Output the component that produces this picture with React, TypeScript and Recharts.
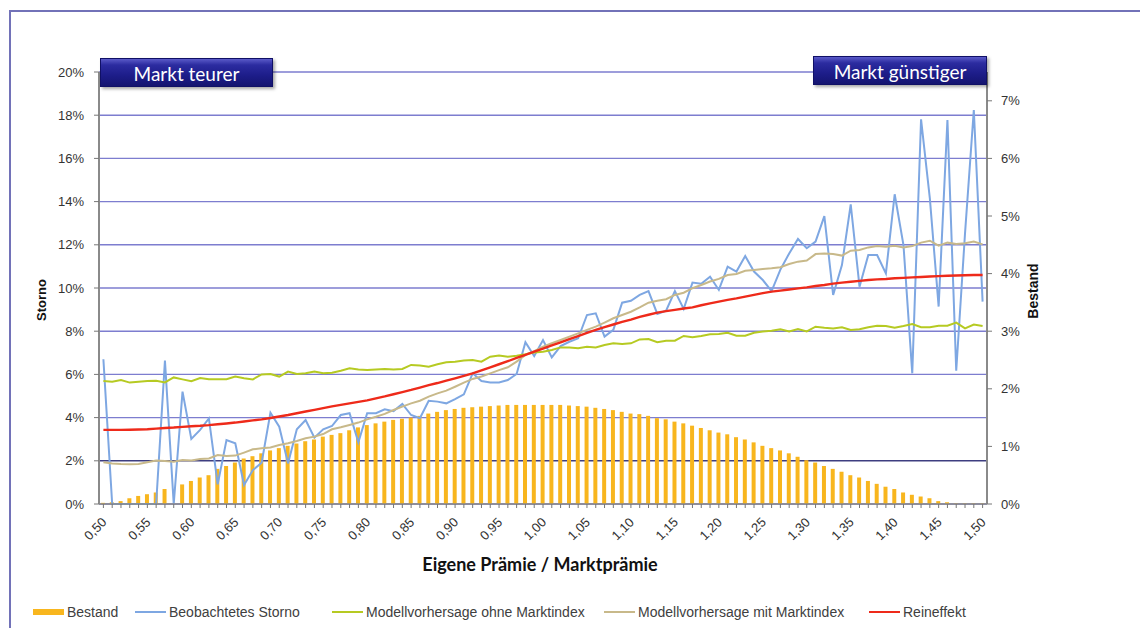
import React from 'react';
import { ComposedChart, Bar, Line, XAxis, YAxis, CartesianGrid } from 'recharts';

const categories = [
  '0,50','0,51','0,52','0,53','0,54','0,55','0,56','0,57','0,58','0,59',
  '0,60','0,61','0,62','0,63','0,64','0,65','0,66','0,67','0,68','0,69',
  '0,70','0,71','0,72','0,73','0,74','0,75','0,76','0,77','0,78','0,79',
  '0,80','0,81','0,82','0,83','0,84','0,85','0,86','0,87','0,88','0,89',
  '0,90','0,91','0,92','0,93','0,94','0,95','0,96','0,97','0,98','0,99',
  '1,00','1,01','1,02','1,03','1,04','1,05','1,06','1,07','1,08','1,09',
  '1,10','1,11','1,12','1,13','1,14','1,15','1,16','1,17','1,18','1,19',
  '1,20','1,21','1,22','1,23','1,24','1,25','1,26','1,27','1,28','1,29',
  '1,30','1,31','1,32','1,33','1,34','1,35','1,36','1,37','1,38','1,39',
  '1,40','1,41','1,42','1,43','1,44','1,45','1,46','1,47','1,48','1,49',
  '1,50'
];

// Bestand (right axis, %)
const bestand = [
  0.02, 0.03, 0.05, 0.10, 0.14, 0.17, 0.20, 0.26, 0.00, 0.34,
  0.40, 0.46, 0.50, 0.61, 0.66, 0.72, 0.79, 0.83, 0.88, 0.93,
  0.97, 1.01, 1.05, 1.09, 1.12, 1.17, 1.20, 1.23, 1.28, 1.33,
  1.37, 1.40, 1.43, 1.46, 1.48, 1.50, 1.53, 1.57, 1.60, 1.63,
  1.65, 1.67, 1.68, 1.69, 1.70, 1.71, 1.72, 1.72, 1.72, 1.72,
  1.72, 1.72, 1.72, 1.71, 1.70, 1.69, 1.67, 1.65, 1.63, 1.60,
  1.57, 1.56, 1.53, 1.49, 1.47, 1.43, 1.40, 1.36, 1.32, 1.28,
  1.24, 1.21, 1.16, 1.12, 1.07, 1.01, 0.97, 0.93, 0.88, 0.82,
  0.76, 0.72, 0.66, 0.61, 0.56, 0.50, 0.46, 0.40, 0.35, 0.30,
  0.26, 0.20, 0.16, 0.13, 0.10, 0.05, 0.03, 0.01, 0.01, 0.01,
  0.01
];

// Beobachtetes Storno (left axis, %)
const beobachtet = [
  6.70, 0.00, 0.00, 0.00, 0.00, 0.00, 0.00, 6.64, 0.00, 5.20,
  3.01, 3.43, 3.96, 0.91, 2.96, 2.81, 0.88, 1.57, 1.91, 4.23,
  3.58, 1.88, 3.46, 3.89, 3.07, 3.46, 3.61, 4.12, 4.20, 2.86,
  4.20, 4.20, 4.38, 4.30, 4.63, 4.12, 3.97, 4.78, 4.74, 4.66,
  4.86, 5.08, 6.05, 5.69, 5.63, 5.63, 5.74, 6.02, 7.49, 6.85,
  7.59, 6.79, 7.31, 7.51, 7.67, 8.75, 8.83, 7.75, 8.06, 9.32,
  9.41, 9.68, 9.86, 8.80, 8.95, 9.86, 9.03, 10.25, 10.20, 10.52,
  9.91, 10.99, 10.76, 11.48, 10.76, 10.37, 9.86, 10.85, 11.60, 12.27,
  11.84, 12.15, 13.33, 9.68, 11.06, 13.87, 10.06, 11.53, 11.53, 10.68,
  14.34, 11.99, 6.05, 17.81, 14.15, 9.14, 17.78, 6.17, 12.53, 18.24,
  9.37
];

// Modellvorhersage ohne Marktindex (left axis, %)
const ohneMarktindex = [
  5.69, 5.66, 5.74, 5.62, 5.66, 5.69, 5.71, 5.63, 5.86, 5.77,
  5.68, 5.83, 5.78, 5.77, 5.78, 5.90, 5.82, 5.77, 6.00, 6.02,
  5.90, 6.13, 6.02, 6.05, 6.13, 6.05, 6.08, 6.17, 6.28, 6.23,
  6.20, 6.23, 6.25, 6.23, 6.25, 6.44, 6.41, 6.36, 6.47, 6.56,
  6.59, 6.64, 6.67, 6.59, 6.82, 6.88, 6.82, 6.86, 6.93, 7.01,
  7.05, 7.13, 7.25, 7.25, 7.21, 7.28, 7.25, 7.36, 7.44, 7.41,
  7.44, 7.62, 7.64, 7.49, 7.56, 7.56, 7.78, 7.72, 7.78, 7.86,
  7.87, 7.93, 7.79, 7.79, 7.93, 7.99, 8.02, 8.09, 7.99, 8.10,
  7.99, 8.21, 8.16, 8.13, 8.18, 8.06, 8.09, 8.18, 8.25, 8.24,
  8.16, 8.24, 8.33, 8.18, 8.18, 8.25, 8.25, 8.40, 8.13, 8.31,
  8.24
];

// Modellvorhersage mit Marktindex (left axis, %)
const mitMarktindex = [
  1.93, 1.88, 1.85, 1.84, 1.85, 1.93, 2.01, 1.99, 1.96, 2.04,
  2.01, 2.08, 2.11, 2.27, 2.22, 2.24, 2.38, 2.53, 2.58, 2.62,
  2.73, 2.81, 2.92, 3.04, 3.12, 3.24, 3.46, 3.55, 3.66, 3.77,
  3.92, 4.04, 4.17, 4.35, 4.51, 4.66, 4.78, 4.97, 5.12, 5.25,
  5.43, 5.62, 5.79, 5.90, 6.05, 6.20, 6.33, 6.59, 6.90, 7.08,
  7.28, 7.44, 7.59, 7.75, 7.90, 8.06, 8.21, 8.40, 8.60, 8.75,
  8.90, 9.10, 9.32, 9.41, 9.48, 9.68, 9.78, 9.99, 10.14, 10.30,
  10.42, 10.60, 10.65, 10.80, 10.83, 10.88, 10.91, 10.96, 11.11, 11.22,
  11.27, 11.57, 11.60, 11.57, 11.50, 11.73, 11.76, 11.88, 11.94, 11.91,
  11.96, 11.88, 11.94, 12.10, 12.19, 11.96, 12.10, 12.04, 12.07, 12.15,
  12.02
];

// Reineffekt (left axis, %)
const reineffekt = [
  3.43, 3.43, 3.43, 3.44, 3.45, 3.46, 3.49, 3.52, 3.54, 3.57,
  3.60, 3.62, 3.65, 3.69, 3.73, 3.77, 3.82, 3.87, 3.92, 3.98,
  4.05, 4.12, 4.20, 4.28, 4.36, 4.44, 4.52, 4.59, 4.66, 4.73,
  4.80, 4.89, 4.98, 5.08, 5.18, 5.28, 5.39, 5.50, 5.60, 5.71,
  5.82, 5.93, 6.05, 6.19, 6.33, 6.47, 6.61, 6.76, 6.90, 7.05,
  7.19, 7.34, 7.48, 7.63, 7.77, 7.92, 8.06, 8.19, 8.31, 8.43,
  8.54, 8.66, 8.76, 8.86, 8.93, 8.99, 9.05, 9.10, 9.20, 9.29,
  9.37, 9.45, 9.52, 9.60, 9.68, 9.76, 9.83, 9.88, 9.93, 9.98,
  10.03, 10.09, 10.14, 10.20, 10.25, 10.29, 10.33, 10.37, 10.40, 10.42,
  10.45, 10.47, 10.49, 10.51, 10.53, 10.55, 10.57, 10.58, 10.59, 10.60,
  10.60
];

const leftTicks = [0, 2, 4, 6, 8, 10, 12, 14, 16, 18, 20];
const rightTicks = [0, 1, 2, 3, 4, 5, 6, 7];
const labelEvery = 5;

const seriesNames = {
  bestand: 'Bestand',
  beobachtet: 'Beobachtetes Storno',
  ohne: 'Modellvorhersage ohne Marktindex',
  mit: 'Modellvorhersage mit Marktindex',
  rein: 'Reineffekt',
};

const COLORS = {
  bestand: '#f8b61e',
  beobachtet: '#7ea7e2',
  ohne: '#b6ca22',
  mit: '#c8b98a',
  rein: '#ee2a1a',
};

const data = categories.map((c, i) => ({
  cat: c,
  bestand: bestand[i],
  beobachtet: beobachtet[i],
  ohne: ohneMarktindex[i],
  mit: mitMarktindex[i],
  rein: reineffekt[i],
}));

const FONT = '"Liberation Sans", Arial, sans-serif';

function XTick(props: any) {
  const { x, y, payload } = props;
  const idx = categories.indexOf(payload.value);
  if (idx % labelEvery !== 0) return <g />;
  const ax = x + 4;
  const ay = y + 13;
  return (
    <text
      x={ax}
      y={ay}
      transform={`rotate(-45 ${ax} ${ay})`}
      textAnchor="end"
      fontSize={13}
      fontFamily={FONT}
      fill="#333"
    >
      {payload.value}
    </text>
  );
}

function GridLine(p: any) {
  const dark = Math.abs(p.y1 - 460.8) < 2;
  return (
    <line
      key={p.key}
      x1={p.x1}
      y1={p.y1}
      x2={p.x2}
      y2={p.y2}
      stroke={dark ? '#3e3e80' : '#7d7dcf'}
      strokeWidth={1.4}
    />
  );
}

const boxStyle: React.CSSProperties = {
  position: 'absolute',
  height: 29,
  background: 'linear-gradient(180deg, #5a5ac8 0%, #2c2ca0 22%, #1d1d8a 60%, #141470 100%)',
  border: '1px solid #101066',
  boxShadow: '2px 2px 3px rgba(0,0,0,0.35)',
  color: '#fff',
  fontFamily: 'Lato, "Liberation Sans", sans-serif',
  fontSize: 19,
  lineHeight: '29px',
  textAlign: 'center',
  boxSizing: 'border-box',
};

const legendItems = [
  { key: 'bestand', left: 33, type: 'rect' },
  { key: 'beobachtet', left: 135, type: 'line' },
  { key: 'ohne', left: 332, type: 'line' },
  { key: 'mit', left: 604, type: 'line' },
  { key: 'rein', left: 869, type: 'line' },
];

export default function App() {
  return (
    <div style={{ position: 'absolute', left: 0, top: 0, width: 1140, height: 628, background: '#fff', overflow: 'hidden' }}>
      <div
        style={{
          position: 'absolute',
          left: 9,
          top: 10,
          width: 1131,
          height: 618,
          borderTop: '2px solid #7272b8',
          borderLeft: '2px solid #7272b8',
          boxSizing: 'border-box',
        }}
      />
      <div style={{ position: 'absolute', left: 0, top: 0 }}>
        <ComposedChart
          width={1140}
          height={628}
          data={data}
          margin={{ top: 72, right: 93, bottom: 64, left: 39 }}
          barCategoryGap={0}
        >
          <CartesianGrid
            yAxisId="left"
            vertical={false}
            horizontal={GridLine as any}
          />
          <XAxis
            dataKey="cat"
            interval={0}
            height={60}
            tick={<XTick />}
            tickSize={4}
            tickLine={{ stroke: '#777' }}
            axisLine={{ stroke: '#888', strokeWidth: 1.5 }}
          />
          <YAxis
            yAxisId="left"
            domain={[0, 20]}
            ticks={leftTicks}
            width={60}
            tickSize={5}
            tickMargin={10}
            tickFormatter={(v: number) => `${v}%`}
            tick={{ fontSize: 13, fill: '#333', fontFamily: FONT }}
            tickLine={{ stroke: '#777' }}
            axisLine={{ stroke: '#8a8a8a', strokeWidth: 2 }}
          />
          <YAxis
            yAxisId="right"
            orientation="right"
            domain={[0, 7.5]}
            ticks={rightTicks}
            width={60}
            tickSize={5}
            tickMargin={9}
            allowDataOverflow
            tickFormatter={(v: number) => `${v}%`}
            tick={{ fontSize: 13, fill: '#333', fontFamily: FONT }}
            tickLine={{ stroke: '#777' }}
            axisLine={{ stroke: '#8a8a8a', strokeWidth: 2 }}
          />
          <Bar
            yAxisId="right"
            dataKey="bestand"
            name={seriesNames.bestand}
            fill={COLORS.bestand}
            barSize={4}
            isAnimationActive={false}
          />
          <Line
            yAxisId="left"
            type="linear"
            dataKey="beobachtet"
            name={seriesNames.beobachtet}
            stroke={COLORS.beobachtet}
            strokeWidth={2}
            dot={false}
            isAnimationActive={false}
          />
          <Line
            yAxisId="left"
            type="linear"
            dataKey="ohne"
            name={seriesNames.ohne}
            stroke={COLORS.ohne}
            strokeWidth={2}
            dot={false}
            isAnimationActive={false}
          />
          <Line
            yAxisId="left"
            type="linear"
            dataKey="mit"
            name={seriesNames.mit}
            stroke={COLORS.mit}
            strokeWidth={2}
            dot={false}
            isAnimationActive={false}
          />
          <Line
            yAxisId="left"
            type="linear"
            dataKey="rein"
            name={seriesNames.rein}
            stroke={COLORS.rein}
            strokeWidth={2.4}
            dot={false}
            isAnimationActive={false}
          />
        </ComposedChart>
      </div>

      <div style={{ ...boxStyle, left: 100, top: 58, width: 173 }}>Markt teurer</div>
      <div style={{ ...boxStyle, left: 813, top: 56, width: 174 }}>Markt günstiger</div>

      <div
        style={{
          position: 'absolute',
          left: 42 - 40,
          top: 300 - 10,
          width: 80,
          height: 20,
          transform: 'rotate(-90deg)',
          textAlign: 'center',
          fontFamily: FONT,
          fontWeight: 'bold',
          fontSize: 13,
          lineHeight: '20px',
          color: '#111',
        }}
      >
        Storno
      </div>
      <div
        style={{
          position: 'absolute',
          left: 1033 - 40,
          top: 291 - 10,
          width: 80,
          height: 20,
          transform: 'rotate(-90deg)',
          textAlign: 'center',
          fontFamily: FONT,
          fontWeight: 'bold',
          fontSize: 14,
          lineHeight: '20px',
          color: '#111',
        }}
      >
        Bestand
      </div>
      <div
        style={{
          position: 'absolute',
          left: 340,
          top: 553,
          width: 400,
          textAlign: 'center',
          fontFamily: 'Lato, "Liberation Sans", sans-serif',
          fontWeight: 'bold',
          fontSize: 18,
          color: '#111',
        }}
      >
        Eigene Prämie / Marktprämie
      </div>

      {legendItems.map((it) => (
        <div
          key={it.key}
          style={{
            position: 'absolute',
            left: it.left,
            top: 603,
            height: 18,
            display: 'flex',
            alignItems: 'center',
            fontFamily: FONT,
            fontSize: 14,
            color: '#404040',
            whiteSpace: 'nowrap',
          }}
        >
          <span
            style={{
              display: 'inline-block',
              width: 31,
              height: it.type === 'rect' ? 6 : 2,
              background: (COLORS as any)[it.key],
              marginRight: 3,
            }}
          />
          {(seriesNames as any)[it.key]}
        </div>
      ))}
    </div>
  );
}
